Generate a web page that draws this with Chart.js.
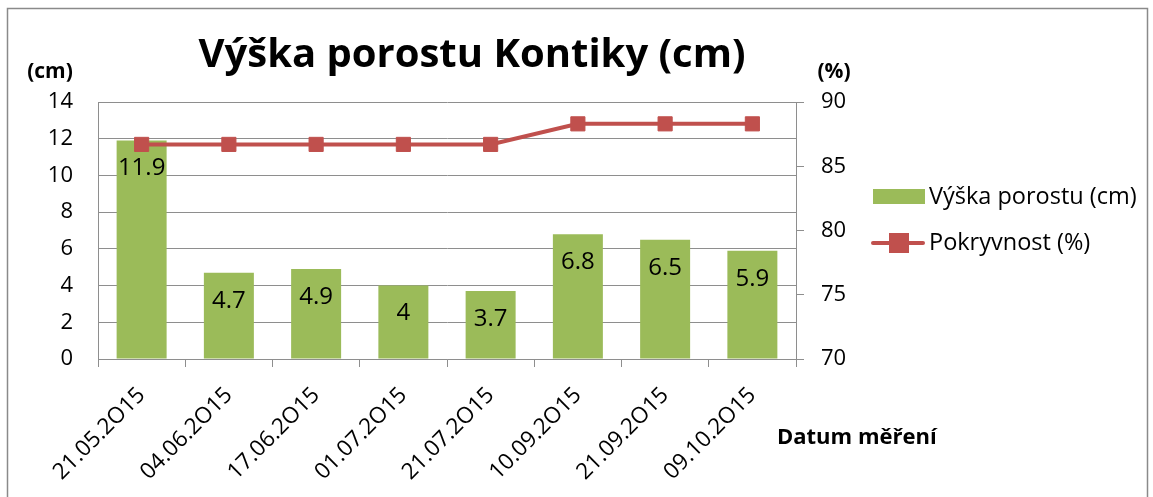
<!DOCTYPE html>
<html>
<head>
<meta charset="utf-8">
<script src="https://cdn.jsdelivr.net/npm/chart.js@4"></script>
<style>
  html, body { margin: 0; padding: 0; background: #fff; }
  #wrap { position: relative; width: 1153px; height: 497px; }
</style>
</head>
<body>
<div id="wrap"><canvas id="chart" width="1153" height="497"></canvas></div>
<script>
// Chart data
const dates = ['21.05.2O15', '04.06.2O15', '17.06.2O15', '01.07.2O15', '21.07.2O15', '10.09.2O15', '21.09.2O15', '09.10.2O15'];
const heightCm = [11.9, 4.7, 4.9, 4, 3.7, 6.8, 6.5, 5.9];
const coverPct = [86.7, 86.7, 86.7, 86.7, 86.7, 88.3, 88.3, 88.3];
const leftTicks = [0, 2, 4, 6, 8, 10, 12, 14];
const rightTicks = [70, 75, 80, 85, 90];

const FONT = '"Open Sans", sans-serif';
const GREEN = '#9BBB59';
const RED = '#C0504D';
const GRID = '#8E8E8E';

// Title, unit labels, axis title, legend, data labels, frame
const decorations = {
    id: 'decorations',
    afterDatasetsDraw(chart) {
        const ctx = chart.ctx;
        ctx.save();
        ctx.fillStyle = '#000';

        // bar value labels (inside end)
        const meta = chart.getDatasetMeta(0);
        ctx.font = '24px ' + FONT;
        ctx.textAlign = 'center';
        ctx.textBaseline = 'middle';
        meta.data.forEach((bar, i) => {
            ctx.fillText(String(heightCm[i]), bar.x, bar.y + 28);
        });
        ctx.restore();
    },
    afterDraw(chart) {
        const ctx = chart.ctx;
        ctx.save();
        // outer frame
        ctx.strokeStyle = '#8a8a8a';
        ctx.lineWidth = 1.5;
        ctx.strokeRect(7.5, 8.5, 1140, 520);

        ctx.fillStyle = '#000';
        ctx.textBaseline = 'middle';

        ctx.font = 'bold 40px ' + FONT;
        ctx.textAlign = 'center';
        ctx.fillText('Výška porostu Kontiky (cm)', 472, 56);

        ctx.font = 'bold 21px ' + FONT;
        ctx.fillText('(cm)', 50, 72);
        ctx.fillText('(%)', 834, 72);
        ctx.textAlign = 'left';
        ctx.font = 'bold 22px ' + FONT;
        ctx.fillText('Datum měření', 777, 438);

        // legend
        ctx.font = '23.5px ' + FONT;
        ctx.fillStyle = GREEN;
        ctx.fillRect(873, 189, 52, 15);
        ctx.fillStyle = '#000';
        ctx.fillText('Výška porostu (cm)', 929, 197);

        ctx.strokeStyle = RED;
        ctx.lineWidth = 4;
        ctx.lineCap = 'round';
        ctx.beginPath();
        ctx.moveTo(873, 243);
        ctx.lineTo(923, 243);
        ctx.stroke();
        ctx.fillStyle = RED;
        ctx.fillRect(889, 233, 20, 20);
        ctx.fillStyle = '#000';
        ctx.fillText('Pokryvnost (%)', 929, 243);
        ctx.restore();
    }
};

new Chart(document.getElementById('chart').getContext('2d'), {
    type: 'bar',
    data: {
        labels: dates,
        datasets: [
            {
                type: 'bar',
                label: 'Výška porostu (cm)',
                data: heightCm,
                backgroundColor: GREEN,
                borderWidth: 0,
                barPercentage: 0.573,
                categoryPercentage: 1,
                yAxisID: 'y',
                order: 1
            },
            {
                type: 'line',
                label: 'Pokryvnost (%)',
                data: coverPct,
                borderColor: RED,
                backgroundColor: RED,
                borderWidth: 4,
                tension: 0,
                pointStyle: 'rect',
                pointRadius: 10,
                pointBorderWidth: 1,
                pointBackgroundColor: RED,
                pointBorderColor: RED,
                yAxisID: 'y1',
                order: 0
            }
        ]
    },
    options: {
        responsive: false,
        animation: false,
        layout: { padding: { top: 102, left: 0, right: 0, bottom: 0 } },
        plugins: {
            legend: { display: false },
            title: { display: false },
            tooltip: { enabled: false }
        },
        scales: {
            x: {
                afterFit(scale) { scale.height = 138; },
                grid: { display: true, drawOnChartArea: false, drawTicks: true, tickLength: 8, color: GRID, offset: true },
                border: { color: GRID, width: 1 },
                ticks: {
                    color: '#000',
                    font: { family: FONT, size: 22.5 },
                    minRotation: 45,
                    maxRotation: 45,
                    padding: 15,
                    autoSkip: false
                }
            },
            y: {
                position: 'left',
                min: 0,
                max: 14,
                afterFit(scale) { scale.width = 98; },
                afterBuildTicks(scale) { scale.ticks = leftTicks.map(v => ({ value: v })); },
                grid: { color: GRID, drawTicks: false },
                border: { color: GRID, width: 1 },
                ticks: {
                    color: '#000',
                    font: { family: FONT, size: 22 },
                    padding: 25
                }
            },
            y1: {
                position: 'right',
                min: 70,
                max: 90,
                afterFit(scale) { scale.width = 1153 - 796; },
                afterBuildTicks(scale) { scale.ticks = rightTicks.map(v => ({ value: v })); },
                grid: { drawOnChartArea: false, drawTicks: true, tickLength: 8, color: GRID },
                border: { color: GRID, width: 1 },
                ticks: {
                    color: '#000',
                    font: { family: FONT, size: 22 },
                    padding: 17
                }
            }
        }
    },
    plugins: [decorations]
});
</script>
</body>
</html>
